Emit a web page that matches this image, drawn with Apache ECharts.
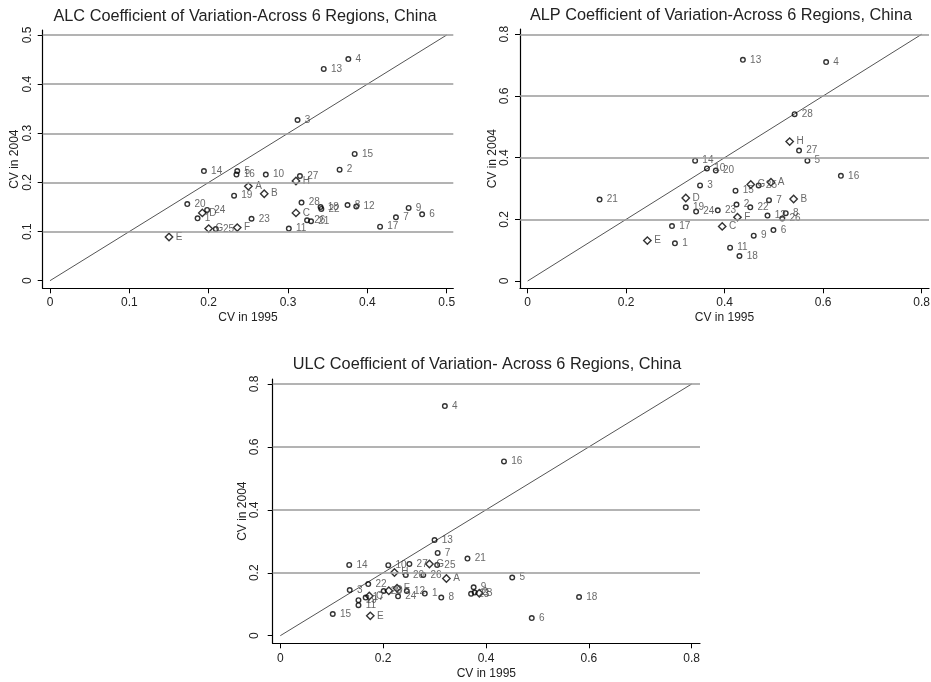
<!DOCTYPE html>
<html><head><meta charset="utf-8">
<script src="https://cdn.jsdelivr.net/npm/echarts@6/dist/echarts.min.js"></script>
<style>html,body{margin:0;padding:0;background:#fff}#c{width:931px;height:682px}</style>
</head><body><div id="c"></div>
<script>
// Point identifiers: provinces 1-28 (circles) and regions A-H (diamonds)
const ids = ['1','2','3','4','5','6','7','8','9','10','11','12','13','14','15','16','17','18','19','20','21','22','23','24','25','26','27','28','A','B','C','D','E','F','G','H'];

// ALC: CV in 1995 (x) and CV in 2004 (y)
const alcX = [0.186,0.365,0.312,0.376,0.236,0.469,0.436,0.375,0.452,0.272,0.301,0.386,0.345,0.194,0.384,0.235,0.416,0.341,0.232,0.173,0.329,0.342,0.254,0.198,0.209,0.324,0.315,0.317,0.250,0.270,0.310,0.192,0.150,0.236,0.200,0.310];
const alcY = [0.127,0.226,0.327,0.451,0.223,0.135,0.129,0.154,0.148,0.216,0.106,0.151,0.431,0.223,0.258,0.216,0.110,0.150,0.173,0.156,0.121,0.146,0.126,0.144,0.105,0.123,0.213,0.159,0.192,0.177,0.138,0.138,0.089,0.108,0.106,0.203];

// ALP
const alpX = [0.299,0.424,0.350,0.606,0.568,0.499,0.490,0.524,0.459,0.364,0.411,0.487,0.437,0.340,0.422,0.636,0.293,0.430,0.321,0.382,0.146,0.452,0.386,0.342,0.469,0.517,0.551,0.542,0.494,0.540,0.395,0.321,0.243,0.426,0.453,0.532];
const alpY = [0.122,0.248,0.310,0.710,0.390,0.165,0.262,0.220,0.147,0.365,0.108,0.212,0.717,0.390,0.293,0.341,0.178,0.081,0.239,0.358,0.264,0.239,0.229,0.225,0.310,0.203,0.423,0.541,0.320,0.266,0.177,0.269,0.131,0.207,0.313,0.452];

// ULC
const ulcX = [0.281,0.378,0.135,0.320,0.451,0.489,0.306,0.313,0.376,0.210,0.152,0.246,0.300,0.134,0.102,0.435,0.166,0.581,0.152,0.244,0.364,0.171,0.371,0.229,0.305,0.278,0.251,0.201,0.323,0.387,0.173,0.211,0.175,0.227,0.290,0.222];
const ulcY = [0.134,0.137,0.145,0.730,0.185,0.056,0.263,0.121,0.154,0.224,0.097,0.142,0.304,0.225,0.069,0.554,0.121,0.123,0.113,0.193,0.245,0.164,0.133,0.125,0.225,0.193,0.228,0.142,0.182,0.135,0.126,0.143,0.063,0.151,0.228,0.201];

// Tick labels and reference lines
const alcTicks = [0, 0.1, 0.2, 0.3, 0.4, 0.5];
const cvTicks = [0, 0.2, 0.4, 0.6, 0.8];
const alcGridLines = [0.1, 0.2, 0.3, 0.4, 0.5];
const cvGridLines = [0.2, 0.4, 0.6, 0.8];

const titles = [
  'ALC Coefficient of Variation-Across 6 Regions, China',
  'ALP Coefficient of Variation-Across 6 Regions, China',
  'ULC Coefficient of Variation- Across 6 Regions, China'
];
const xName = 'CV in 1995';
const yName = 'CV in 2004';

const FONT = 'Liberation Sans, Arial, Helvetica, sans-serif';

const panels = [
  {xs: alcX, ys: alcY, ticks: alcTicks, lines: alcGridLines, diag: 0.5,
   grid: {left: 42.7, top: 30, width: 410.6, height: 258.3},
   xr: [-0.0092, 0.5083], yr: [-0.0155, 0.5102], ylm: 9.4, yng: 22.5, xlm: 8, xng: 23.5,
   title: [245, 17]},
  {xs: alpX, ys: alpY, ticks: cvTicks, lines: cvGridLines, diag: 0.8,
   grid: {left: 520, top: 29, width: 409, height: 259.3},
   xr: [-0.0156, 0.8149], yr: [-0.0237, 0.8171], ylm: 9.0, yng: 21.5, xlm: 8, xng: 23.5,
   title: [721, 16]},
  {xs: ulcX, ys: ulcY, ticks: cvTicks, lines: cvGridLines, diag: 0.8,
   grid: {left: 272.7, top: 379, width: 427.3, height: 264.3},
   xr: [-0.0148, 0.8162], yr: [-0.0242, 0.816], ylm: 12, yng: 24.5, xlm: 9, xng: 24,
   title: [487, 365]}
];

const grids = [], xAxes = [], yAxes = [], series = [], graphics = [];

panels.forEach((p, i) => {
  grids.push(Object.assign({containLabel: false, outerBoundsMode: 'none'}, p.grid));
  const axisCommon = (margin, rotate) => ({
    axisLine: {show: true, onZero: false, lineStyle: {color: '#000', width: 1.2}},
    axisTick: {show: true, length: 5, customValues: p.ticks, lineStyle: {color: '#000', width: 1}},
    axisLabel: {customValues: p.ticks, margin: margin, rotate: rotate, fontSize: 12, color: '#222', fontFamily: FONT,
                formatter: v => String(v)},
    splitLine: {show: false},
    nameLocation: 'middle',
    nameMoveOverlap: false,
    nameTextStyle: {fontSize: 12, color: '#222', fontFamily: FONT}
  });
  xAxes.push(Object.assign(axisCommon(p.xlm, 0), {
    type: 'value', gridIndex: i, min: p.xr[0], max: p.xr[1], name: xName, nameGap: p.xng
  }));
  yAxes.push(Object.assign(axisCommon(p.ylm, 90), {
    type: 'value', gridIndex: i, min: p.yr[0], max: p.yr[1], name: yName, nameGap: p.yng
  }));

  // 45-degree line with horizontal reference lines
  series.push({
    type: 'line', xAxisIndex: i, yAxisIndex: i, silent: true, animation: false,
    data: [[0, 0], [p.diag, p.diag]], symbol: 'none',
    lineStyle: {color: '#555', width: 1}, z: 1,
    markLine: {
      silent: true, symbol: ['none', 'none'], animation: false,
      label: {show: false},
      lineStyle: {color: '#9a9a9a', width: 1.5, type: 'solid'},
      data: p.lines.map(v => ({yAxis: v}))
    }
  });

  const circles = [], diamonds = [];
  ids.forEach((id, k) => {
    const item = {name: id, value: [p.xs[k], p.ys[k]]};
    if (/^[A-Z]$/.test(id)) diamonds.push(item); else circles.push(item);
  });
  const labelCfg = (dist) => ({show: true, position: 'right', distance: dist, formatter: q => q.name,
    fontSize: 10, color: '#444', fontFamily: FONT});
  series.push({
    type: 'scatter', xAxisIndex: i, yAxisIndex: i, animation: false, z: 3,
    symbol: 'circle', symbolSize: 4.6, data: circles,
    itemStyle: {color: 'rgba(0,0,0,0)', borderColor: '#000', borderWidth: 1.4},
    label: labelCfg(4.2)
  });
  series.push({
    type: 'scatter', xAxisIndex: i, yAxisIndex: i, animation: false, z: 3,
    symbol: 'diamond', symbolSize: 7.4, data: diamonds,
    itemStyle: {color: 'rgba(0,0,0,0)', borderColor: '#000', borderWidth: 1.4},
    label: labelCfg(2.4)
  });

  graphics.push({
    type: 'text', x: p.title[0], y: p.title[1], silent: true,
    style: {text: titles[i], align: 'center', verticalAlign: 'middle',
            font: '16.3px ' + FONT, fill: '#222'}
  });
});

const chart = echarts.init(document.getElementById('c'), null, {renderer: 'canvas'});
chart.setOption({
  animation: false,
  backgroundColor: '#fff',
  grid: grids, xAxis: xAxes, yAxis: yAxes, series: series,
  graphic: graphics
});
</script>
</body></html>
